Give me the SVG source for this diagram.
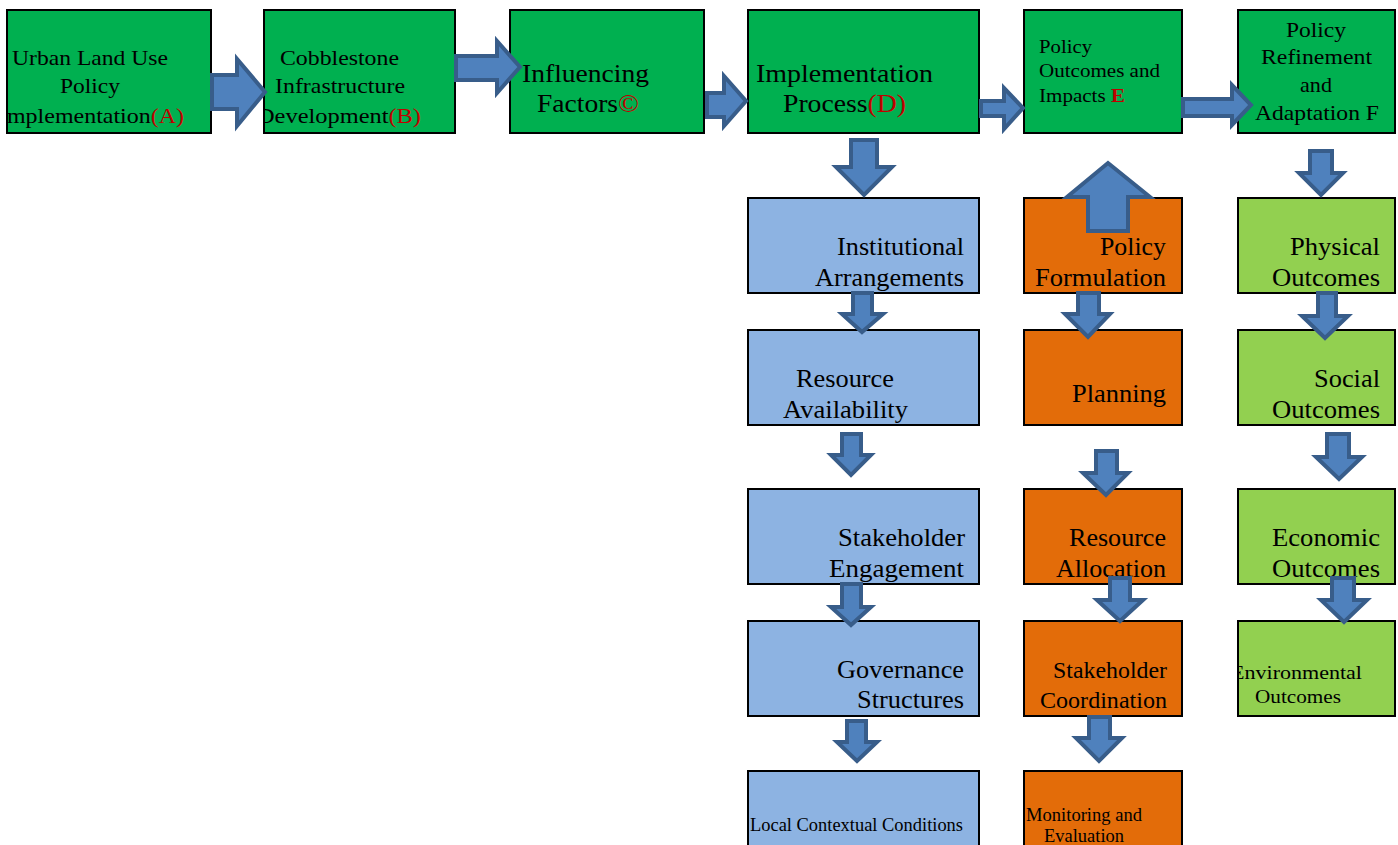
<svg xmlns="http://www.w3.org/2000/svg" width="1398" height="845" viewBox="0 0 1398 845">
<style>
.box{stroke:#000;stroke-width:2}
.g{fill:#00B050}.b{fill:#8DB3E2}.o{fill:#E36C09}.lg{fill:#92D050}
text{font-family:"Liberation Serif","Times New Roman",serif;fill:#000}
.red{fill:#C00000}
.arr{fill:#4F81BD;stroke:#385D8A;stroke-width:4;stroke-linejoin:miter}
</style>
<defs>
<clipPath id="cA"><rect x="7" y="10" width="204" height="123"/></clipPath>
<clipPath id="cB"><rect x="264" y="10" width="191" height="123"/></clipPath>
<clipPath id="cEnv"><rect x="1238" y="621" width="157" height="95"/></clipPath>
</defs>
<rect width="1398" height="845" fill="#fff"/>
<g id="nodeA">
<rect class="box g" x="7" y="10" width="204" height="123"/>
<g clip-path="url(#cA)" font-size="21">
<text x="12" y="65" textLength="156" lengthAdjust="spacingAndGlyphs">Urban Land Use</text>
<text x="60" y="93" textLength="60" lengthAdjust="spacingAndGlyphs">Policy</text>
<text x="-1" y="123" textLength="185" lengthAdjust="spacingAndGlyphs">Implementation<tspan class="red">(A)</tspan></text>
</g>
</g>
<g id="nodeB">
<rect class="box g" x="264" y="10" width="191" height="123"/>
<g clip-path="url(#cB)" font-size="21">
<text x="280" y="65" textLength="119" lengthAdjust="spacingAndGlyphs">Cobblestone</text>
<text x="275" y="93" textLength="130" lengthAdjust="spacingAndGlyphs">Infrastructure</text>
<text x="257" y="123" textLength="164" lengthAdjust="spacingAndGlyphs">Development<tspan class="red">(B)</tspan></text>
</g>
</g>
<g id="nodeC">
<rect class="box g" x="510" y="10" width="194" height="123"/>
<text font-size="26" x="522" y="82" textLength="127" lengthAdjust="spacingAndGlyphs">Influencing</text>
<text font-size="26" x="537" y="112" textLength="102" lengthAdjust="spacingAndGlyphs">Factors<tspan class="red">©</tspan></text>
</g>
<g id="nodeD">
<rect class="box g" x="748" y="10" width="231" height="123"/>
<text font-size="26" x="756" y="82" textLength="177" lengthAdjust="spacingAndGlyphs">Implementation</text>
<text font-size="26" x="783" y="112" textLength="123" lengthAdjust="spacingAndGlyphs">Process<tspan class="red">(D)</tspan></text>
</g>
<g id="nodeE">
<rect class="box g" x="1024" y="10" width="158" height="123"/>
<text font-size="19" x="1039" y="53" textLength="53" lengthAdjust="spacingAndGlyphs">Policy</text>
<text font-size="19" x="1039" y="77" textLength="121" lengthAdjust="spacingAndGlyphs">Outcomes and</text>
<text font-size="19" x="1039" y="102" textLength="86" lengthAdjust="spacingAndGlyphs">Impacts <tspan class="red" font-weight="bold">E</tspan></text>
</g>
<g id="nodeF">
<rect class="box g" x="1238" y="10" width="157" height="123"/>
<text font-size="21" x="1286" y="37" textLength="60" lengthAdjust="spacingAndGlyphs">Policy</text>
<text font-size="21" x="1261" y="64" textLength="111" lengthAdjust="spacingAndGlyphs">Refinement</text>
<text font-size="21" x="1300" y="92" textLength="32" lengthAdjust="spacingAndGlyphs">and</text>
<text font-size="21" x="1255" y="120" textLength="124" lengthAdjust="spacingAndGlyphs">Adaptation F</text>
</g>
<g id="institutional">
<rect class="box b" x="748" y="198" width="231" height="95"/>
<text font-size="25" x="837" y="255" textLength="127" lengthAdjust="spacingAndGlyphs">Institutional</text>
<text font-size="25" x="815" y="286" textLength="149" lengthAdjust="spacingAndGlyphs">Arrangements</text>
</g>
<g id="resourceAvailability">
<rect class="box b" x="748" y="330" width="231" height="95"/>
<text font-size="25" x="796" y="387" textLength="98" lengthAdjust="spacingAndGlyphs">Resource</text>
<text font-size="25" x="783" y="418" textLength="125" lengthAdjust="spacingAndGlyphs">Availability</text>
</g>
<g id="stakeholderEngagement">
<rect class="box b" x="748" y="489" width="231" height="95"/>
<text font-size="25" x="838" y="546" textLength="127" lengthAdjust="spacingAndGlyphs">Stakeholder</text>
<text font-size="25" x="829" y="577" textLength="135" lengthAdjust="spacingAndGlyphs">Engagement</text>
</g>
<g id="governance">
<rect class="box b" x="748" y="621" width="231" height="95"/>
<text font-size="25" x="837" y="678" textLength="127" lengthAdjust="spacingAndGlyphs">Governance</text>
<text font-size="25" x="857" y="708" textLength="107" lengthAdjust="spacingAndGlyphs">Structures</text>
</g>
<g id="localConditions">
<rect class="box b" x="748" y="771" width="231" height="80"/>
<text font-size="18.5" x="750" y="831" textLength="213" lengthAdjust="spacingAndGlyphs">Local Contextual Conditions</text>
</g>
<g id="policyFormulation">
<rect class="box o" x="1024" y="198" width="158" height="95"/>
<text font-size="25" x="1100" y="255" textLength="66" lengthAdjust="spacingAndGlyphs">Policy</text>
<text font-size="25" x="1035" y="286" textLength="131" lengthAdjust="spacingAndGlyphs">Formulation</text>
</g>
<g id="planning">
<rect class="box o" x="1024" y="330" width="158" height="95"/>
<text font-size="25" x="1072" y="402" textLength="94" lengthAdjust="spacingAndGlyphs">Planning</text>
</g>
<g id="resourceAllocation">
<rect class="box o" x="1024" y="489" width="158" height="95"/>
<text font-size="25" x="1069" y="546" textLength="97" lengthAdjust="spacingAndGlyphs">Resource</text>
<text font-size="25" x="1056" y="577" textLength="110" lengthAdjust="spacingAndGlyphs">Allocation</text>
</g>
<g id="stakeholderCoordination">
<rect class="box o" x="1024" y="621" width="158" height="95"/>
<text font-size="24" x="1053" y="678" textLength="114" lengthAdjust="spacingAndGlyphs">Stakeholder</text>
<text font-size="24" x="1040" y="708" textLength="127" lengthAdjust="spacingAndGlyphs">Coordination</text>
</g>
<g id="monitoring">
<rect class="box o" x="1024" y="771" width="158" height="80"/>
<text font-size="18.5" x="1026" y="821" textLength="116" lengthAdjust="spacingAndGlyphs">Monitoring and</text>
<text font-size="18.5" x="1044" y="842" textLength="80" lengthAdjust="spacingAndGlyphs">Evaluation</text>
</g>
<g id="physical">
<rect class="box lg" x="1238" y="198" width="157" height="95"/>
<text font-size="25" x="1290" y="255" textLength="90" lengthAdjust="spacingAndGlyphs">Physical</text>
<text font-size="25" x="1272" y="286" textLength="108" lengthAdjust="spacingAndGlyphs">Outcomes</text>
</g>
<g id="social">
<rect class="box lg" x="1238" y="330" width="157" height="95"/>
<text font-size="25" x="1314" y="387" textLength="66" lengthAdjust="spacingAndGlyphs">Social</text>
<text font-size="25" x="1272" y="418" textLength="108" lengthAdjust="spacingAndGlyphs">Outcomes</text>
</g>
<g id="economic">
<rect class="box lg" x="1238" y="489" width="157" height="95"/>
<text font-size="25" x="1272" y="546" textLength="108" lengthAdjust="spacingAndGlyphs">Economic</text>
<text font-size="25" x="1272" y="577" textLength="108" lengthAdjust="spacingAndGlyphs">Outcomes</text>
</g>
<g id="environmental">
<rect class="box lg" x="1238" y="621" width="157" height="95"/>
<g clip-path="url(#cEnv)">
<text font-size="19.5" x="1231" y="679" textLength="131" lengthAdjust="spacingAndGlyphs">Environmental</text>
</g>
<text font-size="19.5" x="1255" y="703" textLength="86" lengthAdjust="spacingAndGlyphs">Outcomes</text>
</g>
<g id="connectors">
<polygon class="arr" points="212,75 237,75 237,59 265,92 237,126 237,109 212,109"/>
<polygon class="arr" points="456,56 497,56 497,41 520,67 497,93 497,80 456,80"/>
<polygon class="arr" points="707,93 724,93 724,76 746,101 724,126 724,117 707,117"/>
<polygon class="arr" points="981,101 1004,101 1004,88 1023,108 1004,129 1004,116 981,116"/>
<polygon class="arr" points="1183,99 1232,99 1232,85 1251,105 1232,125 1232,116 1183,116"/>
<polygon class="arr" points="851,140 877,140 877,167 892,167 864,195 836,167 851,167"/>
<polygon class="arr" points="853,293 872,293 872,314 883,314 862,332 842,314 853,314"/>
<polygon class="arr" points="842,434 861,434 861,455 871,455 851,475 831,455 842,455"/>
<polygon class="arr" points="842,584 861,584 861,607 871,607 851,625 831,607 842,607"/>
<polygon class="arr" points="847,721 866,721 866,742 877,742 857,761 837,742 847,742"/>
<polygon class="arr" points="1088,231 1128,231 1128,197 1150,197 1108,163 1067,197 1088,197"/>
<polygon class="arr" points="1078,293 1099,293 1099,314 1110,314 1088,337 1065,314 1078,314"/>
<polygon class="arr" points="1096,451 1117,451 1117,473 1128,473 1106,495 1083,473 1096,473"/>
<polygon class="arr" points="1110,578 1130,578 1130,600 1143,600 1120,621 1097,600 1110,600"/>
<polygon class="arr" points="1089,717 1110,717 1110,738 1122,738 1099,761 1076,738 1089,738"/>
<polygon class="arr" points="1310,151 1332,151 1332,173 1343,173 1321,195 1299,173 1310,173"/>
<polygon class="arr" points="1318,293 1336,293 1336,316 1348,316 1325,338 1302,316 1318,316"/>
<polygon class="arr" points="1327,434 1349,434 1349,457 1362,457 1339,479 1316,457 1327,457"/>
<polygon class="arr" points="1332,578 1354,578 1354,600 1367,600 1344,622 1321,600 1332,600"/>
</g>
</svg>
